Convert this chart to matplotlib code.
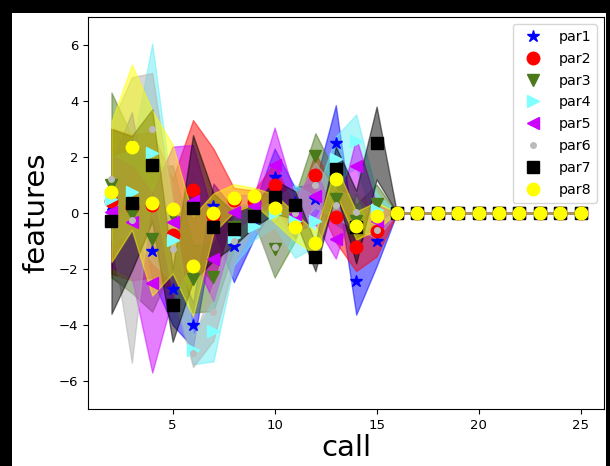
import matplotlib
matplotlib.use("Agg")
import matplotlib.pyplot as plt
from matplotlib.patches import Rectangle
import numpy as np

calls = list(range(2, 26))

par1_mean = [0.3, 2.4, -1.35, -2.7, -4.0, 0.25, -1.17, -0.3, 1.3, 0.4, 0.5, 2.5, -2.43, -1.0] + [0]*10
par1_std  = [1.5, 1.2, 1.0, 1.3, 0.8, 0.8, 1.3, 0.6, 1.0, 0.5, 0.6, 1.35, 1.2, 0.9] + [0]*10
par2_mean = [0.43, 0.2, 0.3, -0.8, 0.82, -0.1, 0.45, 0.4, 1.0, -0.4, 1.35, -0.15, -1.22, -0.65] + [0]*10
par2_std  = [2.6, 2.6, 2.6, 2.0, 2.5, 2.4, 0.45, 0.4, 0.8, 0.5, 0.8, 0.9, 0.85, 0.9] + [0]*10
par3_mean = [1.0, -0.05, -0.93, -0.1, -2.35, -2.3, -0.5, 0.0, -1.3, -0.2, 2.05, 0.5, -0.3, 0.32] + [0]*10
par3_std  = [3.3, 2.8, 2.6, 1.8, 1.2, 1.2, 0.8, 0.3, 1.0, 0.8, 0.8, 0.9, 0.6, 0.7] + [0]*10
par4_mean = [0.5, 0.75, 2.15, -0.95, -4.9, -4.2, -0.87, -0.45, 0.0, -0.3, -0.3, 1.93, 2.57, 0.1] + [0]*10
par4_std  = [1.5, 1.5, 3.9, 1.5, 0.5, 1.1, 1.0, 0.5, 0.5, 1.3, 0.9, 0.8, 0.95, 0.6] + [0]*10
par5_mean = [0.05, -0.33, -2.5, -0.33, 0.43, -1.65, 0.03, 0.25, 1.7, -0.03, 0.6, -0.93, 1.68, -0.3] + [0]*10
par5_std  = [2.0, 2.0, 3.2, 2.7, 2.0, 1.5, 0.6, 0.4, 1.35, 0.6, 1.0, 0.7, 1.0, 0.6] + [0]*10
par6_mean = [1.2, -0.25, 3.0, -1.3, -5.0, -3.55, -1.0, 0.0, -1.2, 0.0, 1.0, 0.3, 0.03, -0.6] + [0]*10
par6_std  = [2.0, 5.1, 2.0, 1.5, 0.5, 1.0, 0.8, 0.4, 1.0, 0.5, 0.8, 0.5, 0.6, 0.3] + [0]*10
par7_mean = [-0.3, 0.35, 1.7, -3.3, 0.18, -0.5, -0.57, -0.1, 0.57, 0.28, -1.58, 1.57, -0.5, 2.5] + [0]*10
par7_std  = [3.3, 2.4, 2.0, 1.3, 2.6, 1.2, 0.6, 0.4, 0.6, 0.5, 0.5, 0.8, 1.3, 1.3] + [0]*10
par8_mean = [0.75, 2.35, 0.35, 0.14, -1.9, 0.0, 0.53, 0.6, 0.17, -0.5, -1.07, 1.2, -0.45, -0.1] + [0]*10
par8_std  = [2.5, 2.95, 3.3, 2.3, 1.8, 0.7, 0.5, 0.3, 0.5, 0.5, 0.4, 0.5, 0.5, 0.5] + [0]*10

labels = ["par1", "par2", "par3", "par4", "par5", "par6", "par7", "par8"]
means = [par1_mean, par2_mean, par3_mean, par4_mean, par5_mean, par6_mean, par7_mean, par8_mean]
stds = [par1_std, par2_std, par3_std, par4_std, par5_std, par6_std, par7_std, par8_std]
colors = ["#0000ff", "#ff0000", "#4a7a1a", "#80ffff", "#cc00ff", "#bbbbbb", "#000000", "#ffff00"]
fill_colors = ["#0000ff", "#ff0000", "#4a7a1a", "#66eef5", "#cc00ff", "#b0b0b0", "#000000", "#ffff00"]
markers = ["*", "o", "v", ">", "<", ".", "s", "o"]
msizes = [9, 9, 9, 9, 9, 8, 8, 9]

fig = plt.figure(figsize=(6.10, 4.66), dpi=100, facecolor="black")
fig.patches.append(Rectangle((12/610, 0), 594/610, 453/466, transform=fig.transFigure,
                             facecolor="white", edgecolor="none", zorder=-10))
ax = fig.add_axes([88/610, 1 - 409/466, 516/610, 392/466])

x = np.array(calls)
for m, s, fc in zip(means, stds, fill_colors):
    m = np.array(m); s = np.array(s)
    ax.fill_between(x, m - s, m + s, facecolor=fc, edgecolor=fc, alpha=0.5, linewidth=1.0)

for m, c, mk, ms, lab in zip(means, colors, markers, msizes, labels):
    ax.plot(x, m, linestyle="none", marker=mk, color=c, markersize=ms, label=lab)

ax.set_ylim(-7, 7)
ax.set_xlim(0.85, 26.15)
ax.set_xticks([5, 10, 15, 20, 25])
ax.set_yticks([-6, -4, -2, 0, 2, 4, 6])
ax.tick_params(labelsize=9.5)
ax.set_xlabel("call", fontsize=21, labelpad=2)
ax.set_ylabel("features", fontsize=21, labelpad=6)
ax.legend(loc="upper right", fontsize=10.3, numpoints=1, labelspacing=0.55)

fig.savefig("out.png", dpi=100, facecolor=fig.get_facecolor())
